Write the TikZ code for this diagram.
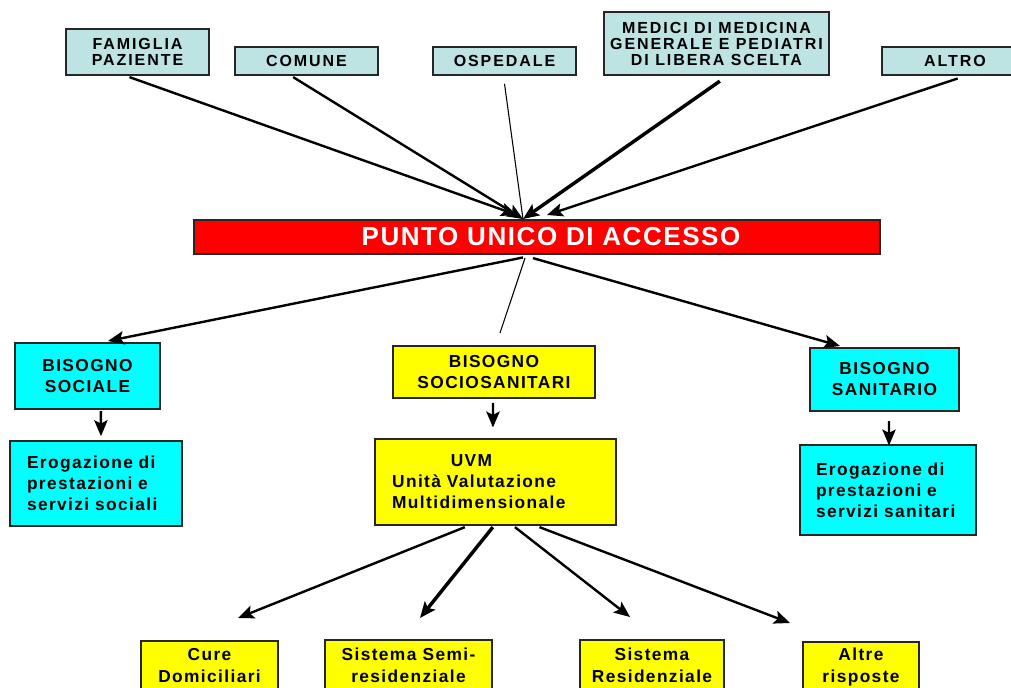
\documentclass[tikz,border=0pt]{standalone}
\usepackage{fontspec}
\setmainfont{Liberation Sans}[LetterSpace=8]
\usetikzlibrary{arrows.meta}
\definecolor{pale cyan}{RGB}{190,227,227}
\definecolor{full cyan}{RGB}{0,255,255}
\definecolor{full yellow}{RGB}{255,255,0}
\definecolor{full red}{RGB}{255,0,0}
\colorlet{source area}{pale cyan}
\colorlet{need area}{full cyan}
\colorlet{uvm area}{full yellow}
\colorlet{access area}{full red}
\tikzset{box/.style={draw=black!85, line width=1.2pt, inner sep=0pt, align=center},
    sourcebox/.style={box, fill=source area, font=\bfseries\fontsize{12}{12}\selectfont\addfontfeatures{LetterSpace=12}},
    needbox/.style={box, fill=need area, font=\bfseries\fontsize{13}{15.75}\selectfont},
    uvmbox/.style={box, fill=uvm area, font=\bfseries\fontsize{13}{15.75}\selectfont},
    answerbox/.style={box, fill=uvm area, font=\bfseries\fontsize{13}{16.5}\selectfont},
    accessbox/.style={box, fill=access area, text=white, font=\bfseries\fontsize{19.5}{20}\selectfont\addfontfeatures{LetterSpace=6}},
    arr/.style={-{Stealth[length=12pt,width=10pt,inset=2.5pt]}, line width=1.8pt},
    thinline/.style={line width=0.8pt}}

\begin{document}
\begin{tikzpicture}[x=0.75pt, y=-0.75pt]
    \useasboundingbox (0,0) rectangle (1011,688);
    % who asks
    \node[sourcebox, minimum width=107.25pt, minimum height=34.5pt] (famiglia) at (137.5,52) {FAMIGLIA\\PAZIENTE};
    \node[sourcebox, minimum width=107.25pt, minimum height=21pt] (comune) at (306.5,61) {COMUNE};
    \node[sourcebox, minimum width=107.25pt, minimum height=21pt] (ospedale) at (504.5,61) {OSPEDALE};
    \node[sourcebox, minimum width=168.75pt, minimum height=47.25pt] (medici) at (716.5,43.5)
        {MEDICI DI MEDICINA\\GENERALE E PEDIATRI\\DI LIBERA SCELTA};
    \node[sourcebox, minimum width=109.5pt, minimum height=21pt] (altro) at (955,61) {ALTRO};

    \node[accessbox, minimum width=514.5pt, minimum height=25.5pt] (punto) at (537,237)
        {\hspace*{21pt}PUNTO UNICO DI ACCESSO};

    % needs
    \node[needbox, minimum width=108.75pt, minimum height=49.5pt] (bsociale) at (87.5,376) {BISOGNO\\SOCIALE};
    \node[needbox, align=left, text width=103.5pt, inner xsep=12.75pt, minimum height=63.75pt] (erosociale)
        at (96,483.5) {Erogazione di\\prestazioni e\\servizi sociali};
    \node[uvmbox, minimum width=151.5pt, minimum height=39pt] (bsociosan) at (494,372) {BISOGNO\\SOCIOSANITARI};
    \node[uvmbox, align=left, text width=155pt, inner xsep=12.75pt, minimum width=180.75pt, minimum height=64.5pt] (uvm)
        at (495.5,482) {\hspace*{44pt}UVM\\Unità Valutazione\\Multidimensionale};
    \node[needbox, minimum width=111.75pt, minimum height=47.25pt] (bsanit) at (884.5,379.5) {BISOGNO\\SANITARIO};
    \node[needbox, align=left, text width=108pt, inner xsep=12pt, minimum height=67.5pt] (erosanit)
        at (888,490) {Erogazione di\\prestazioni e\\servizi sanitari};

    % answers
    \node[answerbox, minimum width=102.75pt, minimum height=37.5pt] (cure) at (209.5,666) {Cure\\Domiciliari};
    \node[answerbox, minimum width=125.25pt, minimum height=37.5pt] (semi) at (408.5,665) {Sistema Semi-\\residenziale};
    \node[answerbox, minimum width=108pt, minimum height=37.5pt] (resid) at (652,665) {Sistema\\Residenziale};
    \node[answerbox, minimum width=87pt, minimum height=37.5pt] (altre) at (861,667) {Altre\\risposte};

    \coordinate (inleft) at (517,215);
    \coordinate (inmid) at (523,219);
    \coordinate (inright) at (547,215);
    \draw[arr] ([xshift=-6pt,yshift=-1pt]famiglia.south) -- (inleft);
    \draw[arr] ([xshift=-10pt,yshift=-1pt]comune.south) -- (inmid);
    \draw[thinline] ([yshift=-6pt]ospedale.south) -- (inmid);
    \draw[arr, line width=2.6pt] ([xshift=2.5pt,yshift=-4pt]medici.south) -- (inmid);
    \draw[arr] ([xshift=2pt,yshift=-2pt]altro.south) -- (inright);

    \coordinate (outleft) at (108,341);
    \coordinate (outmid) at (500,333);
    \coordinate (outright) at (840,346);
    \draw[arr] ([xshift=-10.5pt,yshift=-2pt]punto.south) -- (outleft);
    \draw[thinline] ([xshift=-9pt,yshift=-2.5pt]punto.south) -- (outmid);
    \draw[arr] ([xshift=-3pt,yshift=-2.5pt]punto.south) -- (outright);

    \draw[arr] ([xshift=10pt,yshift=-1pt]bsociale.south) -- ([xshift=3.75pt,yshift=3pt]erosociale.north);
    \draw[arr] ([xshift=-0.75pt,yshift=-3pt]bsociosan.south) -- ([xshift=-1.9pt,yshift=8pt]uvm.north);
    \draw[arr] ([xshift=3.4pt,yshift=-7pt]bsanit.south) -- ([xshift=0.75pt,yshift=-1pt]erosanit.north);

    \coordinate (tocure) at (238,618);
    \coordinate (tosemi) at (420,618);
    \coordinate (toresid) at (630,617);
    \coordinate (toaltre) at (790,623);
    \draw[arr] ([xshift=-23pt,yshift=-1pt]uvm.south) -- (tocure);
    \draw[arr, line width=2.6pt] ([xshift=-2pt,yshift=-1pt]uvm.south) -- (tosemi);
    \draw[arr] ([xshift=14.6pt,yshift=-1pt]uvm.south) -- (toresid);
    \draw[arr] ([xshift=33pt,yshift=-1pt]uvm.south) -- (toaltre);
\end{tikzpicture}
\end{document}
